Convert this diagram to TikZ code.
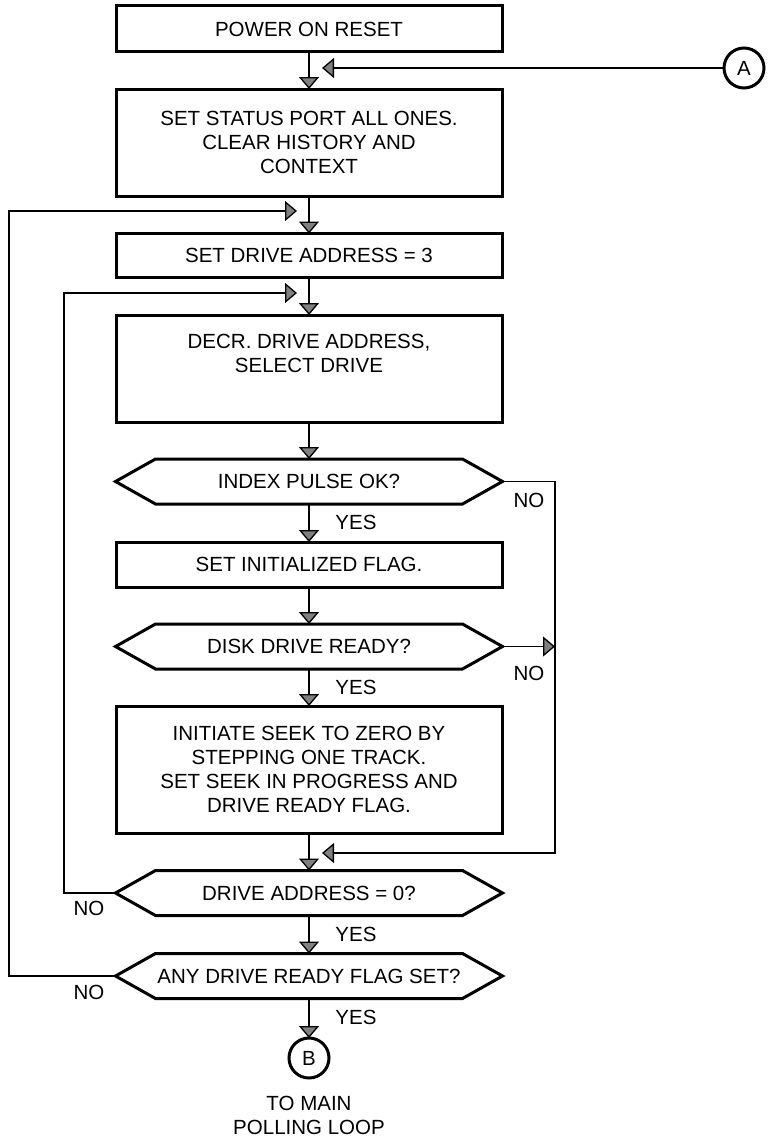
\documentclass[tikz,border=0pt]{standalone}
\usepackage{fontspec}
\setmainfont{Liberation Sans}
\usetikzlibrary{arrows.meta}

\tikzset{
	flow/.style={-{Triangle[length=12pt,width=20pt,fill=black!50]}, line width=1.3pt},
	procbox/.style={draw, line width=3pt, minimum width=386pt, inner sep=0pt, outer sep=0pt, align=center},
	decision/.style={minimum width=387pt, minimum height=45pt, inner sep=0pt, outer sep=0pt},
	hexline/.style={line width=3pt, line join=miter},
	connector/.style={draw, circle, line width=3pt, minimum size=40pt, inner sep=0pt, outer sep=0pt},
	lbl/.style={inner sep=0pt}
}

\begin{document}
\begin{tikzpicture}[x=1pt, y=-1pt, font=\fontsize{20.5}{24}\selectfont]
	\useasboundingbox (0,0) rectangle (770,1140);

	% Process boxes
	\node[procbox, minimum height=46pt] (b1) at (309,29) {POWER ON RESET};
	\node[procbox, minimum height=107pt] (b2) at (309,142.5) {SET STATUS PORT ALL ONES.\\CLEAR HISTORY AND\\CONTEXT};
	\node[procbox, minimum height=44pt] (b3) at (309,255.5) {SET DRIVE ADDRESS = 3};
	\node[procbox, minimum height=107pt] (b4) at (309,368.5) {DECR. DRIVE ADDRESS,\\SELECT DRIVE\\\strut};
	\node[procbox, minimum height=45pt] (b5) at (309,564.5) {SET INITIALIZED FLAG.};
	\node[procbox, minimum height=127pt] (b6) at (309,769.5) {INITIATE SEEK TO ZERO BY\\STEPPING ONE TRACK.\\SET SEEK IN PROGRESS AND\\DRIVE READY FLAG.};

	% Decisions
	\node[decision] (q1) at (309,481.5) {INDEX PULSE OK?};
	\node[decision] (q2) at (309,646.5) {DISK DRIVE READY?};
	\node[decision] (q3) at (309,893) {DRIVE ADDRESS = 0?};
	\node[decision] (q4) at (309,976) {ANY DRIVE READY FLAG SET?};
	\foreach \q in {q1,q2,q3,q4}
		\draw[hexline] (\q.west) -- ([xshift=40pt]\q.north west) -- ([xshift=-40pt]\q.north east)
			-- (\q.east) -- ([xshift=-40pt]\q.south east) -- ([xshift=40pt]\q.south west) -- cycle;

	% Off-page connectors
	\node[connector] (A) at (744,68) {A};
	\node[connector] (B) at (309,1058) {B};
	\node[lbl, align=center] (dest) at (309,1115) {TO MAIN\\POLLING LOOP};

	% Free ends and corners
	\coordinate (ain) at (322,68);
	\coordinate (outer) at (9,211);
	\coordinate (outin) at (297,211);
	\coordinate (inner) at (64,293);
	\coordinate (inin) at (297,293);
	\coordinate (rjoin) at (555,646.5);
	\coordinate (rcorner) at (555,853);
	\coordinate (rin) at (322,853);

	% Main flow
	\draw[flow] (b1) -- (b2);
	\draw[flow] (A) -- (ain);
	\draw[flow] (b2) -- (b3);
	\draw[flow] (b3) -- (b4);
	\draw[flow] (b4) -- (q1);
	\draw[flow] (q1) -- (b5);
	\draw[flow] (b5) -- (q2);
	\draw[flow] (q2) -- (b6);
	\draw[flow] (b6) -- (q3);
	\draw[flow] (q3) -- (q4);
	\draw[flow] (q4) -- (B);

	% Branches
	\draw[flow] (q1.east) -| (rcorner) -- (rin);
	\draw[flow] (q2.east) -- (rjoin);
	\draw[flow] (q3.west) -| (inner) -- (inin);
	\draw[flow] (q4.west) -| (outer) -- (outin);

	% Yes / no labels
	\node[lbl] (no1) at (529,500) {NO};
	\node[lbl] (no2) at (529,673) {NO};
	\node[lbl] (no3) at (89,908) {NO};
	\node[lbl] (no4) at (89,992) {NO};
	\node[lbl] (yes1) at (356,522) {YES};
	\node[lbl] (yes2) at (356,687) {YES};
	\node[lbl] (yes3) at (356,934) {YES};
	\node[lbl] (yes4) at (356,1017) {YES};
\end{tikzpicture}
\end{document}
